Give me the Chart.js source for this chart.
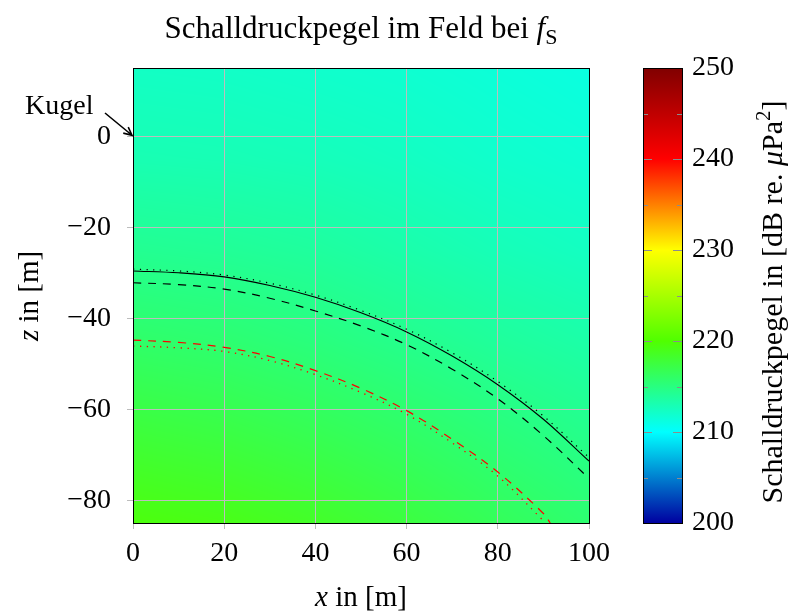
<!DOCTYPE html>
<html>
<head>
<meta charset="utf-8">
<script src="https://cdn.jsdelivr.net/npm/chart.js@4.4.0/dist/chart.umd.min.js"></script>
<style>
  html, body { margin: 0; padding: 0; background: #fff; }
  #wrap { position: relative; width: 792px; height: 615px; }
  #field { position: absolute; left: 0; top: 0; }
  #bar { position: absolute; left: 600px; top: 0; }
</style>
</head>
<body>
<div id="wrap">
  <canvas id="field" width="792" height="615"></canvas>
  <canvas id="bar" width="192" height="615"></canvas>
</div>
<script>
// axis ticks
const xTicks = [0, 20, 40, 60, 80, 100];
const zTicks = [-80, -60, -40, -20, 0];
const cbTicks = [200, 210, 220, 230, 240, 250];
const cbMinor = [205, 215, 225, 235, 245];

// curves (z in m over x in m)
const curveX = [0, 10, 20, 30, 40, 50, 60, 70, 80, 90, 100];
const solidZ = [-29.6, -30.0, -30.9, -32.8, -35.4, -38.8, -43.0, -48.3, -54.6, -62.2, -71.4];
const dottedZ = [-29.2, -29.6, -30.5, -32.3, -34.9, -38.3, -42.4, -47.6, -53.9, -61.5, -70.6];
const dashedZ = [-32.2, -32.6, -33.6, -35.6, -38.4, -41.7, -45.8, -51.2, -57.7, -65.8, -75.2];
const redDashX = [0, 10, 20, 30, 40, 50, 60, 70, 80, 90, 91.5];
const redDashZ = [-44.8, -45.3, -46.4, -48.4, -51.5, -55.4, -60.3, -66.6, -73.8, -82.9, -85];
const redDotX = [0, 10, 20, 30, 40, 50, 60, 70, 80, 90, 90.4];
const redDotZ = [-46.1, -46.5, -47.3, -49.3, -52.4, -56.3, -61.1, -67.4, -74.7, -84.5, -85];

// sound pressure level field, dB (rows = z, cols = x)
const fieldX = [0, 20, 40, 60, 80, 100];
const fieldZ = [15, -5, -25, -45, -65, -85];
const fieldLevels = [
  [212.3, 212.2, 212.0, 211.8, 211.5, 211.2],
  [213.0, 212.9, 212.7, 212.4, 212.0, 211.7],
  [214.3, 214.1, 213.8, 213.3, 212.8, 212.4],
  [215.9, 215.6, 215.1, 214.5, 213.9, 213.4],
  [217.7, 217.3, 216.7, 216.0, 215.2, 214.5],
  [219.5, 219.1, 218.4, 217.5, 216.5, 215.6]
];

// colormap
const cmapLevels = [200, 210, 220, 230, 240, 250];
const cmapColors = [[0, 0, 160], [0, 255, 255], [80, 255, 0], [255, 255, 0], [255, 0, 0], [128, 0, 0]];

const serif = 'Liberation Serif';
const tickFont = { family: serif, size: 28 };

function pts(xs, zs) {
  return xs.map((x, i) => ({ x: x, y: zs[i] }));
}

function levelColor(v) {
  if (v <= cmapLevels[0]) return cmapColors[0];
  for (let i = 0; i < cmapLevels.length - 1; i++) {
    if (v <= cmapLevels[i + 1]) {
      const t = (v - cmapLevels[i]) / (cmapLevels[i + 1] - cmapLevels[i]);
      const a = cmapColors[i], b = cmapColors[i + 1];
      return [a[0] + (b[0] - a[0]) * t, a[1] + (b[1] - a[1]) * t, a[2] + (b[2] - a[2]) * t];
    }
  }
  return cmapColors[cmapColors.length - 1];
}

function fieldValue(x, z) {
  let i = 0, j = 0;
  while (i < fieldX.length - 2 && x > fieldX[i + 1]) i++;
  while (j < fieldZ.length - 2 && z < fieldZ[j + 1]) j++;
  const tx = Math.min(1, Math.max(0, (x - fieldX[i]) / (fieldX[i + 1] - fieldX[i])));
  const tz = Math.min(1, Math.max(0, (z - fieldZ[j]) / (fieldZ[j + 1] - fieldZ[j])));
  const a = fieldLevels[j][i], b = fieldLevels[j][i + 1];
  const c = fieldLevels[j + 1][i], d = fieldLevels[j + 1][i + 1];
  return (a * (1 - tx) + b * tx) * (1 - tz) + (c * (1 - tx) + d * tx) * tz;
}

// text made of pieces with different fonts
function drawRuns(ctx, runs, cx, baseY) {
  let w = 0;
  runs.forEach(r => { ctx.font = r.font; w += ctx.measureText(r.text).width; });
  let x = cx - w / 2;
  ctx.fillStyle = '#000';
  ctx.textBaseline = 'alphabetic';
  ctx.textAlign = 'left';
  runs.forEach(r => {
    ctx.font = r.font;
    ctx.fillText(r.text, x, baseY + (r.dy || 0));
    x += ctx.measureText(r.text).width;
  });
}

const heatField = {
  id: 'heatField',
  beforeDraw(chart) {
    const { ctx, chartArea: a, scales: { x, y } } = chart;
    const left = Math.round(a.left), top = Math.round(a.top);
    const w = Math.round(a.right) - left, h = Math.round(a.bottom) - top;
    const img = ctx.createImageData(w, h);
    for (let py = 0; py < h; py++) {
      const z = y.getValueForPixel(top + py + 0.5);
      for (let px = 0; px < w; px++) {
        const c = levelColor(fieldValue(x.getValueForPixel(left + px + 0.5), z));
        const k = (py * w + px) * 4;
        img.data[k] = c[0];
        img.data[k + 1] = c[1];
        img.data[k + 2] = c[2];
        img.data[k + 3] = 255;
      }
    }
    ctx.putImageData(img, left, top);
  },
  afterDatasetsDraw(chart) {
    const { ctx, chartArea: a } = chart;
    ctx.save();
    ctx.strokeStyle = '#000';
    ctx.lineWidth = 1;
    const l = Math.round(a.left) + 0.5, t = Math.round(a.top) + 0.5;
    const r = Math.round(a.right) + 0.5, b = Math.round(a.bottom) + 0.5;
    ctx.strokeRect(l, t, r - l, b - t);
    ctx.restore();
  },
  afterDraw(chart) {
    const { ctx, scales: { x, y } } = chart;
    ctx.save();
    // title
    drawRuns(ctx, [
      { text: 'Schalldruckpegel im Feld bei ', font: '31px ' + serif },
      { text: 'f', font: 'italic 31px ' + serif },
      { text: 'S', font: '22px ' + serif, dy: 6 }
    ], 361, 38);
    // x title
    drawRuns(ctx, [
      { text: 'x', font: 'italic 29px ' + serif },
      { text: ' in [m]', font: '29px ' + serif }
    ], 361, 606);
    // z title
    ctx.save();
    ctx.translate(38, 296);
    ctx.rotate(-Math.PI / 2);
    drawRuns(ctx, [
      { text: 'z', font: 'italic 29px ' + serif },
      { text: ' in [m]', font: '29px ' + serif }
    ], 0, 0);
    ctx.restore();
    // Kugel annotation with arrow to (0, 0)
    ctx.font = '28px ' + serif;
    ctx.fillStyle = '#000';
    ctx.textAlign = 'left';
    ctx.textBaseline = 'alphabetic';
    ctx.fillText('Kugel', 25, 114);
    const tx = x.getPixelForValue(0) - 1, ty = y.getPixelForValue(0) - 1;
    const sx = 105, sy = 113;
    const ang = Math.atan2(ty - sy, tx - sx);
    ctx.strokeStyle = '#000';
    ctx.lineWidth = 1.6;
    ctx.beginPath();
    ctx.moveTo(sx, sy);
    ctx.lineTo(tx, ty);
    ctx.moveTo(tx - 9 * Math.cos(ang - 0.45), ty - 9 * Math.sin(ang - 0.45));
    ctx.lineTo(tx, ty);
    ctx.lineTo(tx - 9 * Math.cos(ang + 0.45), ty - 9 * Math.sin(ang + 0.45));
    ctx.stroke();
    ctx.restore();
  }
};

const gridStyle = { color: '#bdbdbd', lineWidth: 1, tickLength: 6 };

new Chart(document.getElementById('field'), {
  type: 'scatter',
  data: {
    datasets: [
      { data: pts(curveX, dottedZ), borderColor: '#000', borderWidth: 1.2, borderDash: [1.2, 5.5] },
      { data: pts(curveX, solidZ), borderColor: '#000', borderWidth: 1.1 },
      { data: pts(curveX, dashedZ), borderColor: '#000', borderWidth: 1.2, borderDash: [8, 7] },
      { data: pts(redDashX, redDashZ), borderColor: '#ff0000', borderWidth: 1.2, borderDash: [8, 7] },
      { data: pts(redDotX, redDotZ), borderColor: '#ff0000', borderWidth: 1.3, borderDash: [1.3, 5.5] }
    ].map(d => Object.assign(d, { showLine: true, pointRadius: 0, tension: 0.35 }))
  },
  options: {
    responsive: false,
    animation: false,
    devicePixelRatio: 1,
    layout: { padding: { left: 0, right: 203, top: 68, bottom: 0 } },
    plugins: { legend: { display: false }, tooltip: { enabled: false } },
    scales: {
      x: {
        type: 'linear', min: 0, max: 100,
        afterBuildTicks: s => { s.ticks = xTicks.map(v => ({ value: v })); },
        afterFit: s => { s.height = 92; },
        grid: gridStyle,
        border: { color: '#000', width: 1 },
        ticks: { font: tickFont, color: '#000', padding: 8, maxRotation: 0 }
      },
      y: {
        type: 'linear', min: -85, max: 15,
        afterBuildTicks: s => { s.ticks = zTicks.map(v => ({ value: v })); },
        afterFit: s => { s.width = 133; },
        grid: gridStyle,
        border: { color: '#000', width: 1 },
        ticks: {
          font: tickFont, color: '#000', padding: 16,
          callback: v => (v < 0 ? '\u2212' + Math.abs(v) : String(v))
        }
      }
    }
  },
  plugins: [heatField]
});

const colorBar = {
  id: 'colorBar',
  beforeDraw(chart) {
    const { ctx, chartArea: a, scales: { y } } = chart;
    const y0 = y.getPixelForValue(cmapLevels[0]);
    const y1 = y.getPixelForValue(cmapLevels[cmapLevels.length - 1]);
    const g = ctx.createLinearGradient(0, y0, 0, y1);
    cmapLevels.forEach((v, i) => {
      const c = cmapColors[i];
      g.addColorStop((v - cmapLevels[0]) / (cmapLevels[cmapLevels.length - 1] - cmapLevels[0]),
        'rgb(' + c[0] + ',' + c[1] + ',' + c[2] + ')');
    });
    ctx.save();
    ctx.fillStyle = g;
    ctx.fillRect(a.left, a.top, a.right - a.left, a.bottom - a.top);
    ctx.restore();
  },
  afterDraw(chart) {
    const { ctx, chartArea: a, scales: { y } } = chart;
    ctx.save();
    ctx.strokeStyle = '#8c8c8c';
    ctx.lineWidth = 1;
    const mark = (v, len) => {
      const py = Math.round(y.getPixelForValue(v)) + 0.5;
      ctx.beginPath();
      ctx.moveTo(a.left, py); ctx.lineTo(a.left + len, py);
      ctx.moveTo(a.right, py); ctx.lineTo(a.right - len, py);
      ctx.stroke();
    };
    cbTicks.slice(1, -1).forEach(v => mark(v, 9));
    cbMinor.forEach(v => mark(v, 5));
    ctx.strokeStyle = '#000';
    ctx.strokeRect(Math.round(a.left) + 0.5, Math.round(a.top) + 0.5,
      Math.round(a.right) - Math.round(a.left), Math.round(a.bottom) - Math.round(a.top));
    // colorbar title
    ctx.translate(182, 302);
    ctx.rotate(-Math.PI / 2);
    drawRuns(ctx, [
      { text: 'Schalldruckpegel in [dB re. ', font: '30px ' + serif },
      { text: '\u03bc', font: 'italic 30px ' + serif },
      { text: 'Pa', font: '30px ' + serif },
      { text: '2', font: '21px ' + serif, dy: -12 },
      { text: ']', font: '30px ' + serif }
    ], 0, 0);
    ctx.restore();
  }
};

new Chart(document.getElementById('bar'), {
  type: 'scatter',
  data: { datasets: [] },
  options: {
    responsive: false,
    animation: false,
    devicePixelRatio: 1,
    layout: { padding: { left: 43, right: 0, top: 68, bottom: 92 } },
    plugins: { legend: { display: false }, tooltip: { enabled: false } },
    scales: {
      x: { display: false, min: 0, max: 1 },
      y: {
        position: 'right', min: 200, max: 250,
        afterBuildTicks: s => { s.ticks = cbTicks.map(v => ({ value: v })); },
        afterFit: s => { s.width = 110; },
        grid: { display: false, drawTicks: false },
        border: { display: false },
        ticks: { font: tickFont, color: '#000', padding: 10 }
      }
    }
  },
  plugins: [colorBar]
});
</script>
</body>
</html>
